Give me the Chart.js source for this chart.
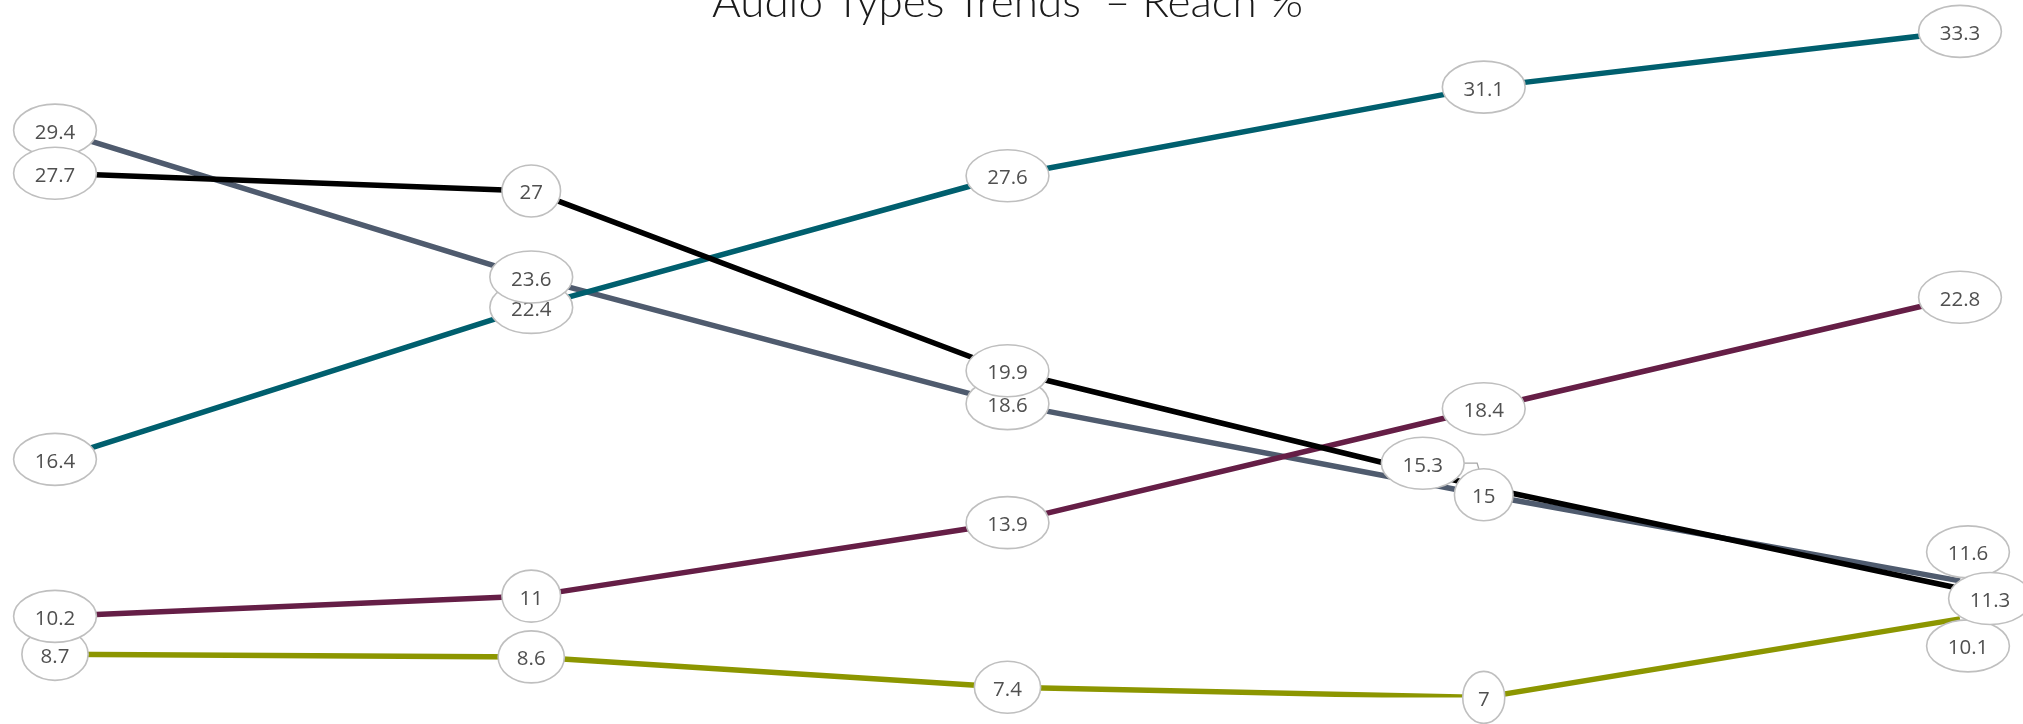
<!DOCTYPE html>
<html>
<head>
<meta charset="utf-8">
<title>Audio Types Trends – Reach %</title>
<script src="https://cdn.jsdelivr.net/npm/chart.js@4.4.1/dist/chart.umd.min.js"></script>
<style>
  html, body { margin: 0; padding: 0; background: #ffffff; overflow: hidden; }
  /* the frame starts a little above the window, so the title's top is cut */
  #frame { position: absolute; left: 0; top: -22px; width: 2023px; height: 746px; }
</style>
</head>
<body>
<div id="frame"><canvas id="chart"></canvas></div>
<script>
// ---- data ----
const periods = ['Wave 1', 'Wave 2', 'Wave 3', 'Wave 4', 'Wave 5'];

const tealValues  = [16.4, 22.4, 27.6, 31.1, 33.3];
const slateValues = [29.4, 23.6, 18.6, 15.0, 11.6];
const blackValues = [27.7, 27.0, 19.9, 15.3, 11.3];
const plumValues  = [10.2, 11.0, 13.9, 18.4, 22.8];
const oliveValues = [8.7, 8.6, 7.4, 7.0, 10.1];

const seriesNames = {
  teal:  'Podcasts',
  slate: 'AM/FM Radio',
  black: 'Streaming Music',
  plum:  'Audiobooks',
  olive: 'Satellite Radio'
};

const valueMin = 7;
const valueMax = 33.3;

// ---- styling ----
const palette = {
  teal:  '#005f6e',
  slate: '#4f5b6e',
  black: '#000000',
  plum:  '#651e46',
  olive: '#8c9600'
};

// stacking of the lines: lower number is drawn on top
const lineLayer = { black: 0, teal: 1, plum: 2, olive: 3, slate: 4 };

// order in which the value bubbles are painted (later ones cover earlier ones)
const bubbleOrder = ['teal', 'olive', 'plum', 'slate', 'black'];

// bubbles that are pushed away from their point so they stay readable
const bubbleNudges = {
  black: { 3: { dx: -61, dy: -24, leader: true }, 4: { dx: 30, dy: 10 } },
  slate: { 4: { dx: 8, dy: -29 } },
  olive: { 4: { dx: 8, dy: 27 } }
};

const seriesValues = {
  teal: tealValues, slate: slateValues, black: blackValues,
  plum: plumValues, olive: oliveValues
};

function makeDataset(key) {
  return {
    key: key,
    label: seriesNames[key],
    data: seriesValues[key],
    borderColor: palette[key],
    backgroundColor: palette[key],
    borderWidth: 5.5,
    pointRadius: 0,
    pointHoverRadius: 0,
    tension: 0,
    fill: false,
    order: lineLayer[key],
    borderCapStyle: 'butt',
    borderJoinStyle: 'round'
  };
}

// value bubbles: white ellipse, light grey rim, grey number
const bubbleLabels = {
  id: 'bubbleLabels',
  afterDatasetsDraw(chart) {
    const ctx = chart.ctx;
    const items = [];
    bubbleOrder.forEach(key => {
      const dsIndex = chart.data.datasets.findIndex(d => d.key === key);
      const ds = chart.data.datasets[dsIndex];
      const meta = chart.getDatasetMeta(dsIndex);
      meta.data.forEach((pt, i) => {
        const n = (bubbleNudges[key] || {})[i] || {};
        items.push({
          px: pt.x, py: pt.y,
          cx: pt.x + (n.dx || 0), cy: pt.y + (n.dy || 0),
          text: String(ds.data[i]),
          leader: !!n.leader
        });
      });
    });
    // bubbles with a leader line sit underneath the rest
    items.sort((a, b) => (b.leader ? 1 : 0) - (a.leader ? 1 : 0));

    ctx.save();
    ctx.font = '20.5px "Open Sans"';
    items.forEach(it => {
      const tw = ctx.measureText(it.text).width;
      const rx = Math.SQRT2 * (tw + 18) / 2;
      const ry = 26;
      if (it.leader) {
        ctx.beginPath();
        ctx.moveTo(it.cx + rx - 1, it.cy);
        ctx.lineTo(it.cx + rx + 13, it.cy);
        ctx.lineTo(it.px, it.py - 2);
        ctx.strokeStyle = '#a6a6a6';
        ctx.lineWidth = 1.25;
        ctx.stroke();
      }
      ctx.beginPath();
      ctx.ellipse(it.cx, it.cy, rx, ry, 0, 0, Math.PI * 2);
      ctx.fillStyle = '#ffffff';
      ctx.fill();
      ctx.strokeStyle = '#bfbfbf';
      ctx.lineWidth = 1.6;
      ctx.stroke();
      ctx.fillStyle = '#505050';
      ctx.textAlign = 'center';
      ctx.textBaseline = 'alphabetic';
      ctx.fillText(it.text, it.cx, it.cy + 8.5);
    });
    ctx.restore();
  }
};

new Chart(document.getElementById('chart'), {
  type: 'line',
  data: {
    labels: periods,
    datasets: ['teal', 'slate', 'black', 'plum', 'olive'].map(makeDataset)
  },
  options: {
    responsive: true,
    maintainAspectRatio: false,
    devicePixelRatio: 1,
    animation: false,
    events: [],
    layout: { padding: { left: 55, right: 63, top: 0, bottom: 26.6 } },
    scales: {
      x: { type: 'category', display: false, offset: false },
      y: { display: false, min: valueMin, max: valueMax }
    },
    plugins: {
      legend: { display: false },
      tooltip: { enabled: false },
      title: {
        display: true,
        text: 'Audio Types Trends  – Reach %',
        color: '#1a1a1a',
        font: { family: 'Lato', size: 44, weight: '300', lineHeight: 50.4 / 44 },
        padding: { top: 0, bottom: 3 }
      }
    }
  },
  plugins: [bubbleLabels]
});
</script>
</body>
</html>
